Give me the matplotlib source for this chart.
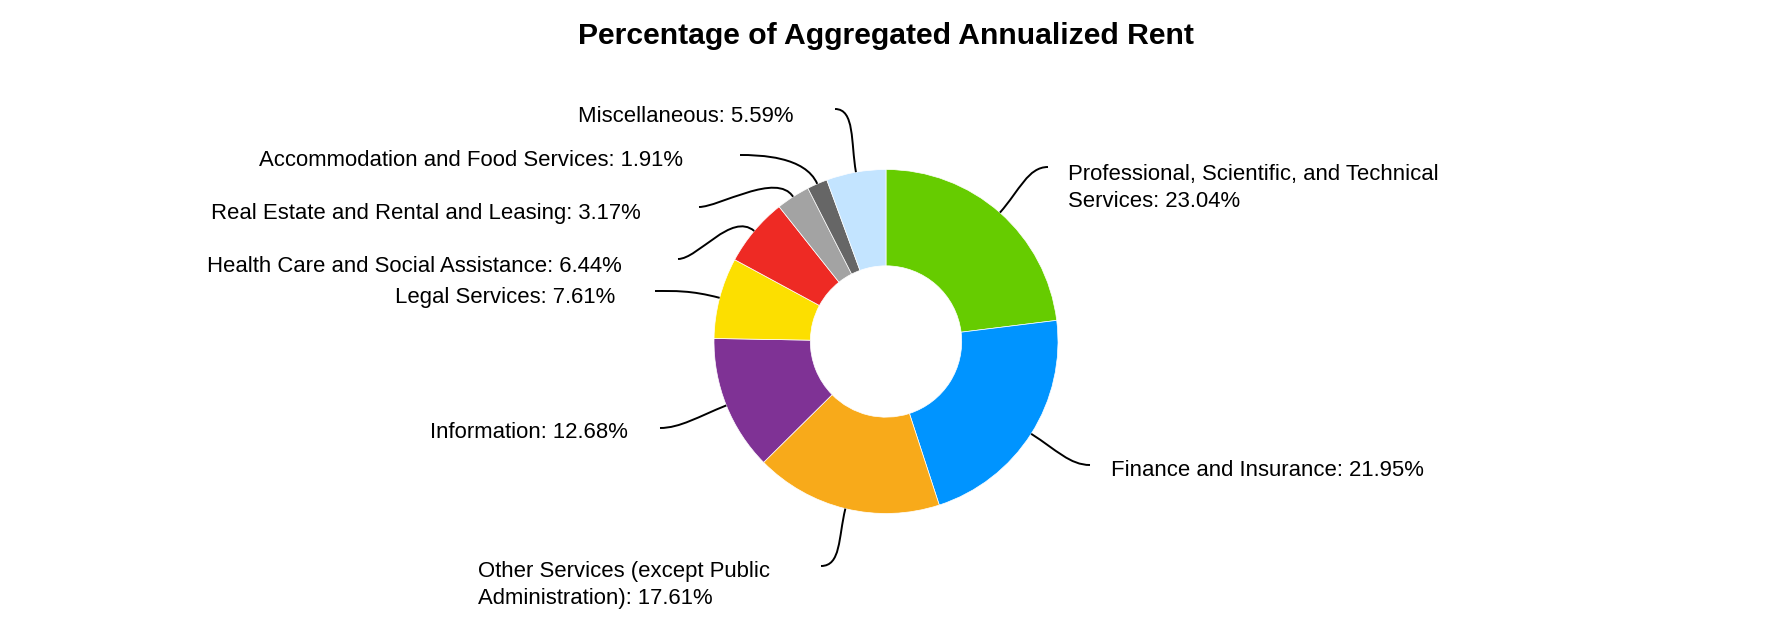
import matplotlib.pyplot as plt
from matplotlib.path import Path
from matplotlib.patches import PathPatch
import numpy as np

categories = [
    'Professional, Scientific, and Technical\nServices',
    'Finance and Insurance',
    'Other Services (except Public\nAdministration)',
    'Information',
    'Legal Services',
    'Health Care and Social Assistance',
    'Real Estate and Rental and Leasing',
    'Accommodation and Food Services',
    'Miscellaneous',
]
shares = [23.04, 21.95, 17.61, 12.68, 7.61, 6.44, 3.17, 1.91, 5.59]
colors = ['#66CC00', '#0094FF', '#F8AA1A', '#7F3295', '#FCDF00',
          '#EE2A24', '#A3A3A3', '#666666', '#C3E4FF']

# label placement (pixel coords, origin top-left)
label_pos = [(1068, 188), (1111, 471), (478, 585), (628, 433), (615, 297),
             (622, 266), (641, 213), (683, 161), (793, 116)]
label_ha = ['left', 'left', 'left', 'right', 'right',
            'right', 'right', 'right', 'right']
leader_end = [(1048, 167), (1090, 465), (821, 566), (660, 428), (655, 291),
              (678, 259), (699, 207), (740, 155), (835, 109)]

plt.rcParams['font.family'] = ['Liberation Sans', 'DejaVu Sans']

fig = plt.figure(figsize=(17.7, 6.18), dpi=100)
ax = fig.add_axes([0, 0, 1, 1])

cx, cy, R = 886, 341.5, 172
wedges, _ = ax.pie(shares, colors=colors, startangle=-90, counterclock=True,
                   center=(cx, cy), radius=R,
                   wedgeprops=dict(width=R * 0.56, edgecolor='white', linewidth=0.5))
ax.set_xlim(0, 1770)
ax.set_ylim(618, 0)
ax.set_aspect('equal')
ax.axis('off')

ax.text(886, 36, 'Percentage of Aggregated Annualized Rent', ha='center', va='center',
        fontsize=21.7, fontweight='bold')

for w, cat, val, (lx, ly), ha, (ex, ey) in zip(wedges, categories, shares, label_pos,
                                                label_ha, leader_end):
    mid = np.deg2rad((w.theta1 + w.theta2) / 2)
    dx, dy = np.cos(mid), np.sin(mid)
    p0 = (cx + R * dx, cy + R * dy)
    c2 = (p0[0] + 30 * dx, p0[1] + 30 * dy)
    side = 1 if cx > ex else -1
    c1 = (ex + 20 * side, ey)
    path = Path([p0, c2, c1, (ex, ey)],
                [Path.MOVETO, Path.CURVE4, Path.CURVE4, Path.CURVE4])
    ax.add_patch(PathPatch(path, facecolor='none', edgecolor='black', lw=1.4))
    ax.text(lx, ly, f'{cat}: {val:.2f}%', ha=ha, va='center', fontsize=15.9,
            linespacing=1.4)

fig.savefig('out.png', dpi=100)
